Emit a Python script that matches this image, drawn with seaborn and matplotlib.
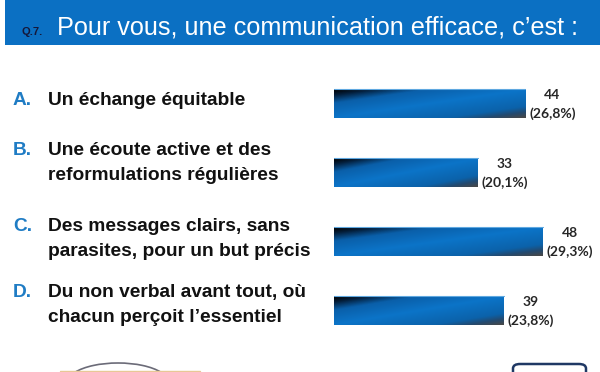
"""Q.7 horizontal bar chart: what makes communication effective."""

import matplotlib

matplotlib.use("Agg")
import matplotlib.pyplot as plt
import numpy as np
import pandas as pd
import seaborn as sns
from matplotlib.colors import LinearSegmentedColormap
from matplotlib.patches import FancyBboxPatch, Rectangle, Arc

# data
letters = ["A.", "B.", "C.", "D."]
answers = [
    ["Un échange équitable"],
    ["Une écoute active et des", "reformulations régulières"],
    ["Des messages clairs, sans", "parasites, pour un but précis"],
    ["Du non verbal avant tout, où", "chacun perçoit l’essentiel"],
]
counts = [44, 33, 48, 39]
shares = ["(26,8%)", "(20,1%)", "(29,3%)", "(23,8%)"]
question = "Pour vous, une communication efficace, c’est :"

W, H = 600, 372
HEADER_BLUE = "#0b70c3"
LETTER_BLUE = "#1f7cc4"
TEXT = "#111111"

sns.set_theme(style="white")
plt.rcParams["font.family"] = ["Liberation Sans", "DejaVu Sans"]

fig = plt.figure(figsize=(W / 100, H / 100), dpi=100)


def fx(px):
    return px / W


def fy(py):
    # pixel row from top -> figure fraction
    return 1 - py / H


# header band
fig.patches.append(Rectangle((fx(5), fy(45)), fx(595), 45 / H, transform=fig.transFigure,
                             facecolor=HEADER_BLUE, edgecolor="none"))
fig.text(fx(21), fy(35), "Q.7.", fontsize=8, fontweight="bold", color="#15183a", va="baseline")
fig.text(fx(57), fy(35), question, fontsize=18.2, color="white", va="baseline")

# answer labels on the left
baselines = [[105], [155, 180], [231, 256.5], [297, 322]]
for letter, lines, ys in zip(letters, answers, baselines):
    fig.text(fx(13), fy(ys[0]), letter, fontsize=13.8, fontweight="bold", color=LETTER_BLUE,
             va="baseline")
    for line, yb in zip(lines, ys):
        fig.text(fx(48), fy(yb), line, fontsize=13.8, fontweight="bold", color=TEXT,
                 va="baseline")

# bar axes: zero at x=334 px, 4.35 px per unit, rows 69 px apart
px_per_unit = 4.35
ax = fig.add_axes([fx(334), fy(345), fx(W - 334), 276 / H])
df = pd.DataFrame({"answer": letters, "count": counts})
sns.barplot(data=df, x="count", y="answer", orient="h", width=29 / 69, color=HEADER_BLUE,
            saturation=1, ax=ax)

bar_cmap = LinearSegmentedColormap.from_list(
    "bar",
    [(0.0, "#000000"), (0.1, "#041f3c"), (0.24, "#0a5fa9"), (0.5, "#0c74c8"),
     (0.8, "#0b62aa"), (0.9, "#234a70"), (1.0, "#484848")],
)
for patch in ax.patches:
    x0, y0 = patch.get_x(), patch.get_y()
    w, h = patch.get_width(), patch.get_height()
    xn = np.linspace(0, 1, 200)
    yn = np.linspace(0, 1, 30)
    t = 0.5 * xn[None, :] + 0.5 * yn[:, None]
    img = ax.imshow(t, cmap=bar_cmap, vmin=0, vmax=1, origin="upper", aspect="auto",
                    extent=(x0, x0 + w, y0 + h, y0), interpolation="bilinear", zorder=3)
    img.set_clip_path(patch)
    patch.set_edgecolor("none")
    # thin light rim along the top edge
    ax.plot([x0, x0 + w], [y0, y0], color="#5fa8e0", lw=0.8, zorder=4)

xmax = (W - 334) / px_per_unit
ax.set_xlim(0, xmax)
ax.set_ylim(3.5, -0.5)
ax.axis("off")

offset = 27 / px_per_unit
for i, (n, pct) in enumerate(zip(counts, shares)):
    ax.text(n + offset, i - 0.12, str(n), ha="center", va="center", fontsize=10,
            fontweight="bold", color="#262626", family=["Lato", "DejaVu Sans"])
    ax.text(n + offset, i + 0.15, pct, ha="center", va="center", fontsize=10,
            fontweight="bold", color="#262626", family=["Lato", "DejaVu Sans"])

# cut-off footer elements
fig.patches.append(Arc((fx(118), fy(382)), fx(100), 38 / H, theta1=20, theta2=160,
                       transform=fig.transFigure, color="#6b6b78", lw=1.2))
fig.lines.append(plt.Line2D([fx(60), fx(200)], [fy(371), fy(371)], transform=fig.transFigure,
                            color="#e8c896", lw=1))
fig.patches.append(FancyBboxPatch((fx(513), fy(390)), fx(73), 26 / H,
                                  boxstyle="round,pad=0,rounding_size=0.012",
                                  transform=fig.transFigure, facecolor="white",
                                  edgecolor="#1f3864", lw=1.8))

fig.savefig("out.png", dpi=100)
